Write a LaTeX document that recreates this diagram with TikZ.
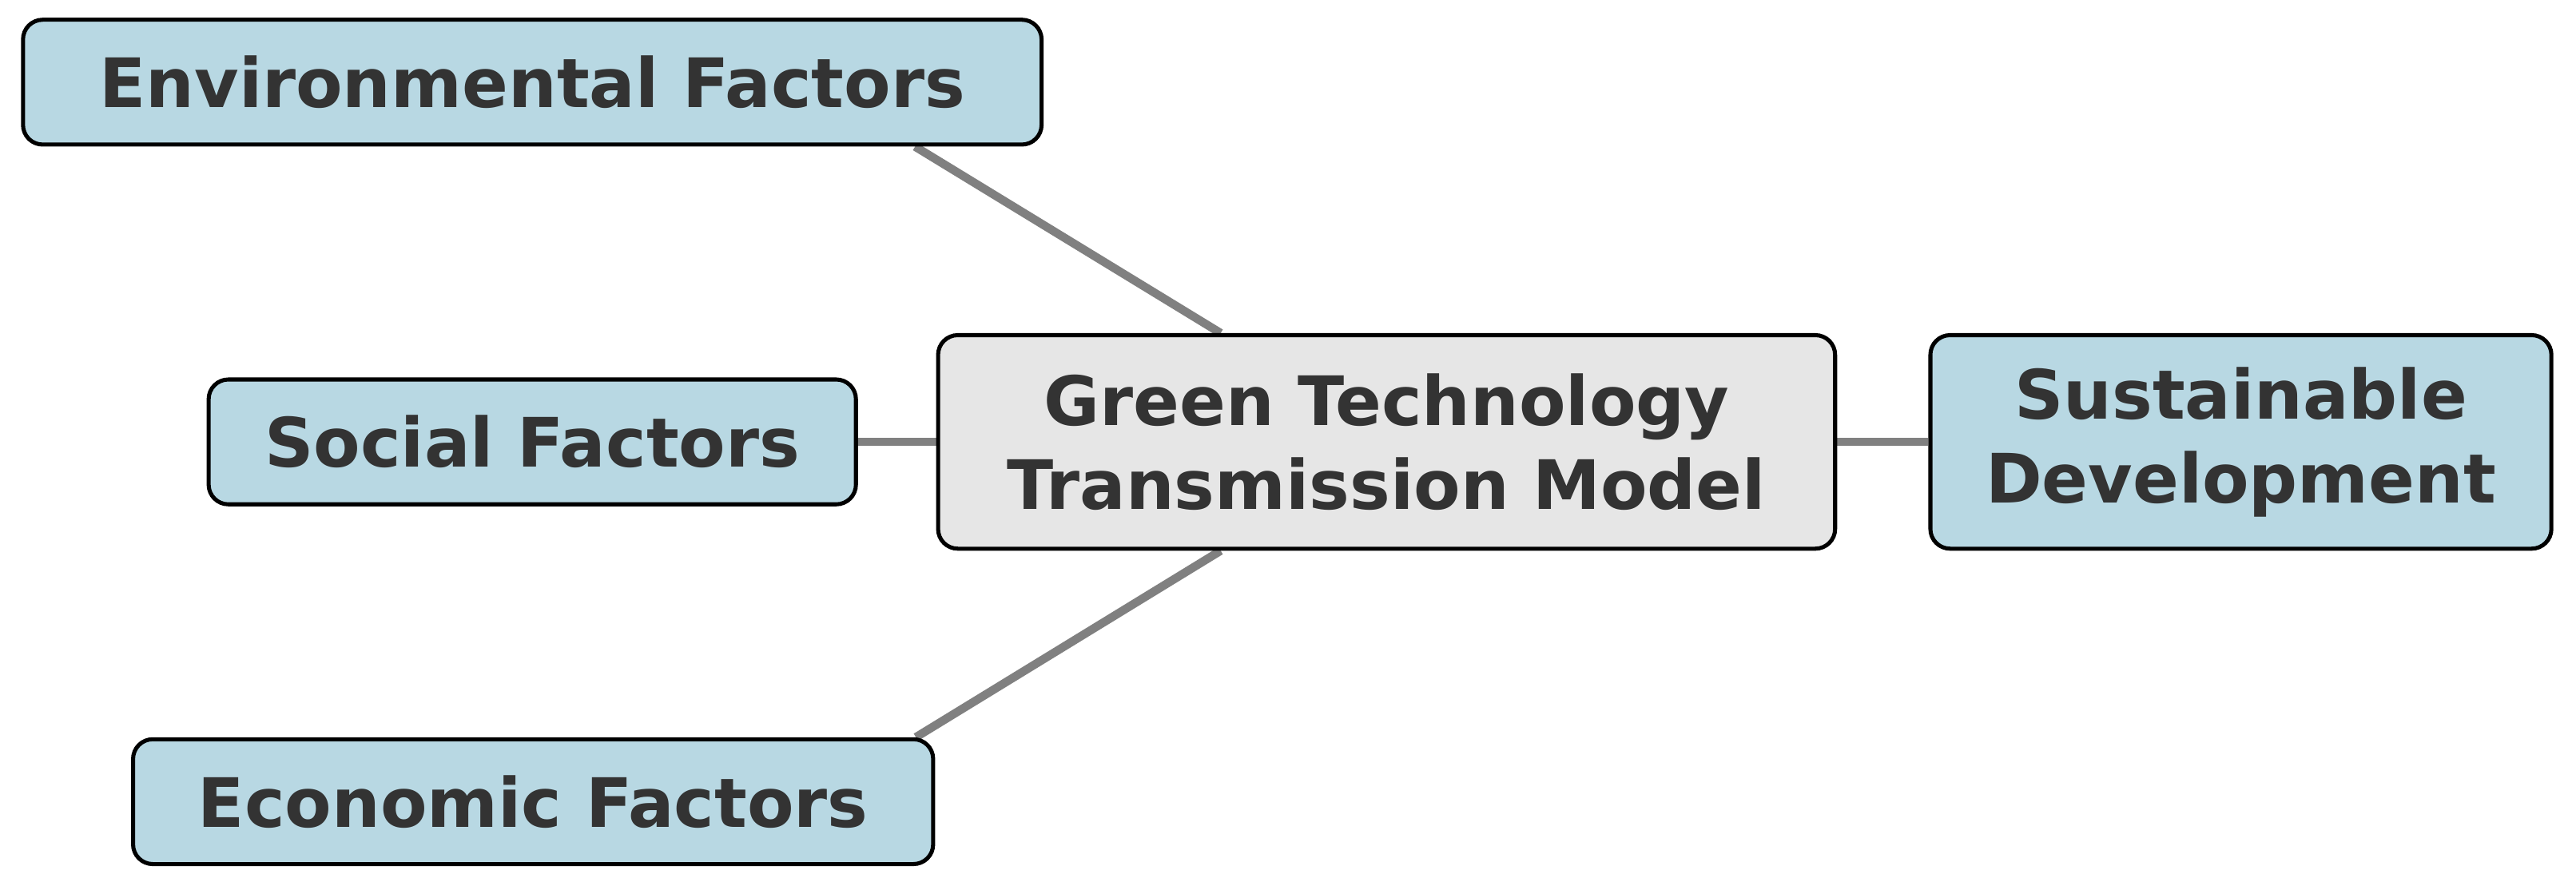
\documentclass[tikz,border=0pt]{standalone}
\usepackage{fontspec}
\setmainfont{DejaVu Sans}
\usetikzlibrary{backgrounds}
\definecolor{boxblue}{HTML}{B8D8E3}
\definecolor{boxgray}{HTML}{E6E6E6}
\definecolor{txt}{HTML}{333333}
\definecolor{lin}{HTML}{808080}
\begin{document}
\begin{tikzpicture}[
  box/.style={draw=black, line width=0.7pt, rounded corners=0.12cm, fill=boxblue, text=txt,
    font=\fontsize{11.8pt}{14.5pt}\selectfont\bfseries, align=center, inner sep=0pt},
  conn/.style={draw=lin, line width=1.45pt}]
\useasboundingbox (0,0) rectangle (15.68,-5.39);
\node[box, minimum width=6.2cm, minimum height=0.76cm] (env) at (3.24,-0.50) {Environmental Factors};
\node[box, minimum width=3.94cm, minimum height=0.76cm] (soc) at (3.24,-2.69) {Social Factors};
\node[box, minimum width=4.87cm, minimum height=0.76cm] (eco) at (3.245,-4.88) {Economic Factors};
\node[box, fill=boxgray, minimum width=5.46cm, minimum height=1.30cm] (gtm) at (8.44,-2.69) {Green Technology\\Transmission Model};
\node[box, minimum width=3.78cm, minimum height=1.30cm] (sd) at (13.64,-2.69) {Sustainable\\Development};
\begin{scope}[on background layer]
\draw[conn] ([xshift=2.33cm]env.south) -- ([xshift=-1.01cm]gtm.north);
\draw[conn] ([xshift=2.33cm]eco.north) -- ([xshift=-1.01cm]gtm.south);
\draw[conn] (soc.east) -- (gtm.west);
\draw[conn] (gtm.east) -- (sd.west);
\end{scope}
\end{tikzpicture}
\end{document}
